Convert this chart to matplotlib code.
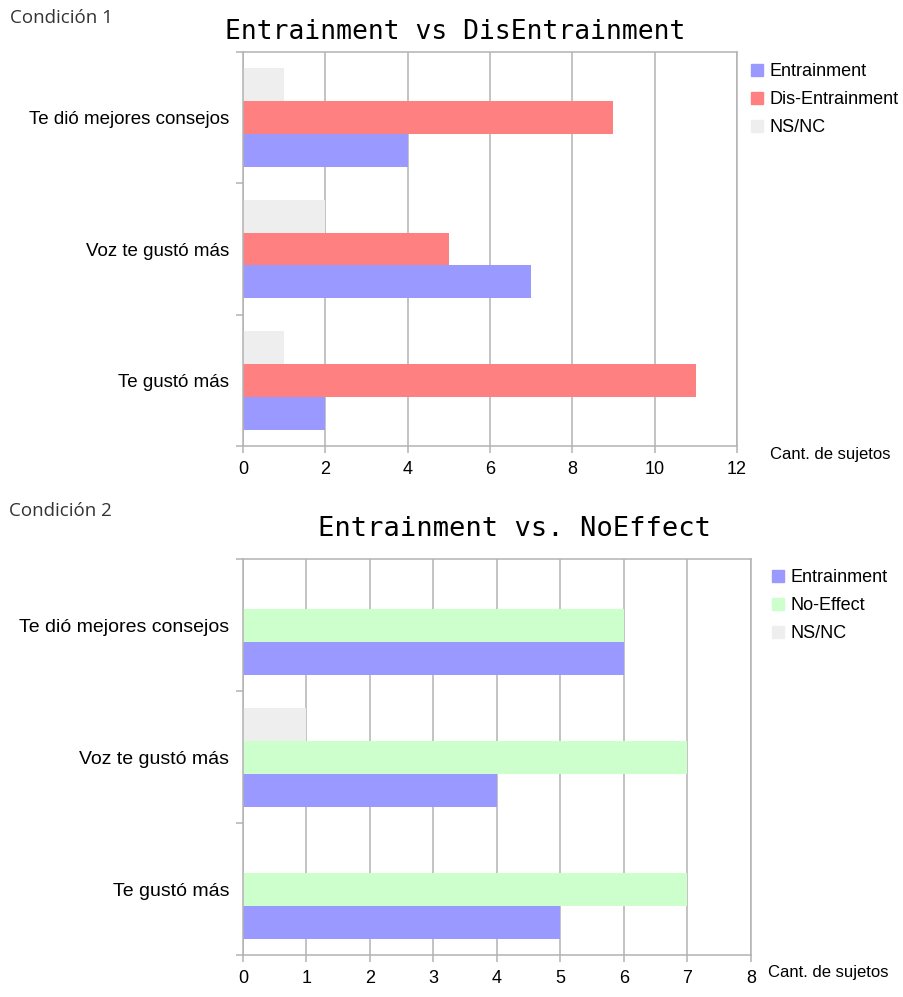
import matplotlib
matplotlib.use("Agg")
import matplotlib.pyplot as plt
import numpy as np
from matplotlib.patches import Patch

# survey answers, bottom category first
categories = ["Te gustó más", "Voz te gustó más", "Te dió mejores consejos"]

c1_entrainment = [2, 7, 4]
c1_disentrainment = [11, 5, 9]
c1_nsnc = [1, 2, 1]

c2_entrainment = [5, 4, 6]
c2_noeffect = [7, 7, 6]
c2_nsnc = [0, 1, 0]

c1_ticks = [0, 2, 4, 6, 8, 10, 12]
c2_ticks = [0, 1, 2, 3, 4, 5, 6, 7, 8]

BLUE = "#9999ff"
RED = "#ff8080"
GREEN = "#ccffcc"
GRAY = "#eeeeee"
LINE = "#b3b3b3"

SANS = ["Liberation Sans", "DejaVu Sans"]
plt.rcParams["font.family"] = SANS

W, H = 904, 997
fig = plt.figure(figsize=(W / 100, H / 100), dpi=100)


def px(x, y):
    # pixel position (from top-left) to figure fraction
    return x / W, 1 - y / H


def draw_panel(rect, title, title_xy, title_fs, series, colors, names, xticks, cat_fs,
               legend_xy, unit_xy, cond_label, cond_xy):
    ax = fig.add_axes(rect)
    y = np.arange(len(categories))
    h = 0.25
    # Entrainment at the bottom of each group, NS/NC on top
    for k, (vals, col) in enumerate(zip(series, colors)):
        ax.barh(y + (k - 1) * h, vals, height=h, color=col, zorder=2)
    ax.set_xlim(xticks[0], xticks[-1])
    ax.set_ylim(-0.5, len(categories) - 0.5)
    ax.set_xticks(xticks)
    ax.set_xticklabels([str(t) for t in xticks], fontsize=13)
    ax.set_yticks(y)
    ax.set_yticklabels(categories, fontsize=cat_fs)
    ax.tick_params(axis="y", length=0, pad=10)
    ax.set_yticks(np.arange(-0.5, len(categories)), minor=True)
    ax.tick_params(axis="y", which="minor", length=5, width=1.1, color=LINE, left=True)
    ax.tick_params(axis="x", length=5, width=1.1, color=LINE, pad=6)
    ax.xaxis.grid(True, color=LINE, linewidth=1.1, zorder=0)
    ax.set_axisbelow(True)
    for s in ax.spines.values():
        s.set_color(LINE)
        s.set_linewidth(1.1)
    fig.text(*px(*title_xy), title, family="DejaVu Sans Mono", fontsize=title_fs,
             ha="center", va="center")
    fig.text(*px(*unit_xy), "Cant. de sujetos", fontsize=12, ha="left", va="center")
    handles = [Patch(color=c) for c in colors]
    fig.legend(handles, names, loc="upper left", bbox_to_anchor=px(*legend_xy),
               frameon=False, fontsize=13, handlelength=0.65, handleheight=0.65,
               handletextpad=0.35, labelspacing=0.6, borderaxespad=0)
    fig.text(*px(*cond_xy), cond_label, family=["Open Sans", "DejaVu Sans"],
             fontsize=13.5, color="#333333", ha="left", va="center")
    return ax


draw_panel([243 / W, 1 - 446 / H, (737 - 243) / W, (446 - 52) / H],
           "Entrainment vs DisEntrainment", (455, 32), 19,
           [c1_entrainment, c1_disentrainment, c1_nsnc], [BLUE, RED, GRAY],
           ["Entrainment", "Dis-Entrainment", "NS/NC"], c1_ticks, 13.5,
           (744, 56), (770, 455), "Condición 1", (10, 18))

draw_panel([243 / W, 1 - 955 / H, (751 - 243) / W, (955 - 559) / H],
           "Entrainment vs. NoEffect", (515, 529), 19.5,
           [c2_entrainment, c2_noeffect, c2_nsnc], [BLUE, GREEN, GRAY],
           ["Entrainment", "No-Effect", "NS/NC"], c2_ticks, 14,
           (765, 562), (768, 972), "Condición 2", (9, 511))

fig.savefig("out.png", dpi=100)
